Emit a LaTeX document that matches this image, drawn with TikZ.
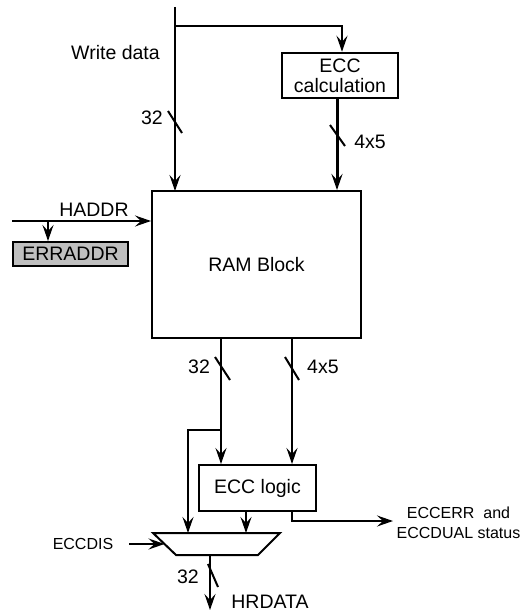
\documentclass[tikz,border=0pt]{standalone}
\usepackage{fontspec}
\setmainfont{Liberation Sans}
\usetikzlibrary{arrows.meta}
\begin{document}
\begin{tikzpicture}[x=1pt,y=-1pt,
 wire/.style={line width=2pt},
 arr/.style={wire,-{Stealth[length=16pt,width=11pt,inset=6pt]}},
 box/.style={draw,line width=2pt,inner sep=0pt,align=center,font=\fontsize{19.5}{22}\selectfont},
 lbl/.style={font=\fontsize{19.5}{22}\selectfont,inner sep=0pt},
 small/.style={font=\fontsize{16}{19.5}\selectfont,inner sep=0pt,align=center},
 slashmark/.style={line width=2pt}]
\useasboundingbox (0,0) rectangle (521,612);
% blocks
\node[box,minimum width=116pt,minimum height=45.5pt] (ecc) at (340,75.5) {ECC\\[-2pt]calculation};
\node[box,minimum width=209pt,minimum height=147pt] (ram) at (256.5,264.5) {RAM Block};
\node[box,fill=black!25,minimum width=115pt,minimum height=24pt] (err) at (70.5,254) {ERRADDR};
\node[box,minimum width=117pt,minimum height=46pt] (elog) at (257.5,488) {ECC logic};
% mux
\coordinate (mtl) at (153,533);
\coordinate (mtr) at (280,533);
\coordinate (mbr) at (258,555);
\coordinate (mbl) at (176,555);
\draw[wire,line join=miter] (mtl) -- (mtr) -- (mbr) -- (mbl) -- cycle;
% write data
\coordinate (wtop) at (175,7);
\coordinate (wbr) at (175,26);
\coordinate (wend) at (175,191);
\draw[arr] (wtop) -- (wend);
\draw[arr] (wbr) -| ([xshift=2pt]ecc.north);
\node[lbl] (wlab) at (115.5,53) {Write data};
\draw[arr,line width=3pt] ([xshift=-3pt]ecc.south) -- ([xshift=-3pt]ecc.south |- ram.north);
% slashes upper
\draw[slashmark] (168,111) -- (182,133);
\node[lbl] (l32a) at (152,118) {32};
\draw[slashmark] (330,125) -- (345,146);
\node[lbl] (l45a) at (370,142) {4x5};
% HADDR
\coordinate (hin) at (12,221);
\coordinate (hbr) at (48,221);
\draw[arr] (hin) -- (hin -| ram.west);
\draw[arr] (hbr) -- (hbr |- err.north);
\node[lbl] (haddr) at (94,210) {HADDR};
% RAM outputs
\coordinate (rl) at ([xshift=-35.5pt]ram.south);
\coordinate (rr) at ([xshift=35.5pt]ram.south);
\draw[arr] (rl) -- (rl |- elog.north);
\draw[arr] (rr) -- (rr |- elog.north);
\draw[slashmark] (215,357) -- (230,380);
\node[lbl] (l32b) at (199,367) {32};
\draw[slashmark] (285,357) -- (299,380);
\node[lbl,anchor=west] (l45b) at (307,367) {4x5};
% bypass
\coordinate (lb) at (221,430);
\coordinate (lbx) at (188,430);
\draw[arr] (lb) -- (lbx) -- (lbx |- mtl);
% ecc logic to mux
\draw[arr] ([xshift=-11.5pt]elog.south) -- ([xshift=-11.5pt]elog.south |- mtl);
% status output
\coordinate (so) at ([xshift=34.5pt]elog.south);
\coordinate (send) at (393,521);
\draw[arr] (so) |- (send);
\node[small] (stat) at (458.5,523) {ECCERR\ \ and\\ECCDUAL status};
% ECCDIS
\coordinate (dis0) at (129,544);
\coordinate (dis1) at (164.5,544);
\draw[arr] (dis0) -- (dis1);
\node[small] (dis) at (83,544) {ECCDIS};
% output
\coordinate (o0) at (210,555);
\coordinate (o1) at (210,610);
\draw[arr] (o0) -- (o1);
\draw[slashmark] (208,564) -- (218,587);
\node[lbl] (l32c) at (188,577) {32};
\node[lbl] (hr) at (270,602) {HRDATA};
\end{tikzpicture}
\end{document}
